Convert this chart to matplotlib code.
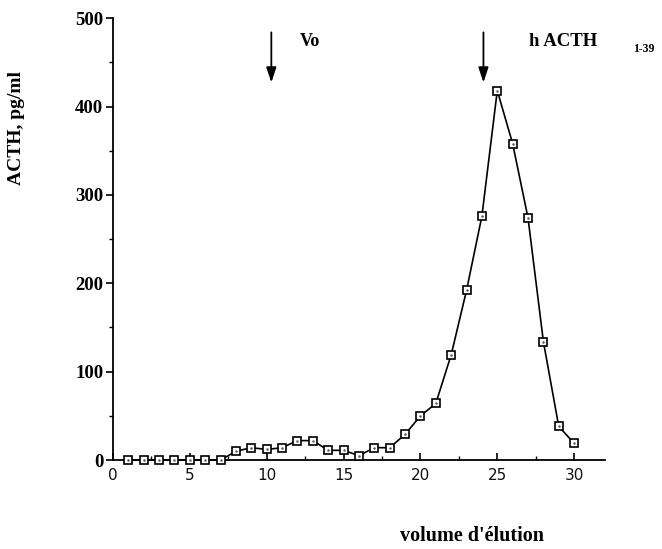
import matplotlib
matplotlib.use("Agg")
import matplotlib.pyplot as plt
from matplotlib.ticker import MultipleLocator

fractions = list(range(1, 31))
acth = [0, 0, 0, 0, 0, 0, 0, 10, 14, 12, 14, 22, 22, 11, 11, 5, 14, 14, 29, 50,
        64, 119, 192, 276, 418, 358, 274, 134, 38, 19]
x_ticks = [0, 5, 10, 15, 20, 25, 30]
y_ticks = [0, 100, 200, 300, 400, 500]
arrow_x = [10.3, 24.1]

fig = plt.figure(figsize=(6.62, 5.49), dpi=100)
ax = fig.add_axes([0.1707, 0.162, 0.743, 0.805])
ax.plot(fractions, acth, color="black", lw=1.2, marker="s", ms=5.5,
        mfc="white", mec="black", mew=1.2, clip_on=False, zorder=3)
ax.plot(fractions, acth, ls="none", marker=".", ms=1.5, color="#555555",
        clip_on=False, zorder=4)

ax.set_xlim(0, 32)
ax.set_ylim(0, 500)
ax.spines["top"].set_visible(False)
ax.spines["right"].set_visible(False)
for s in ("left", "bottom"):
    ax.spines[s].set_linewidth(1.3)
ax.set_xticks(x_ticks)
ax.set_yticks(y_ticks)
ax.xaxis.set_minor_locator(MultipleLocator(2.5))
ax.yaxis.set_minor_locator(MultipleLocator(50))
ax.tick_params(axis="x", which="major", direction="in", length=5, width=1.2,
               labelsize=11, pad=6, labelcolor="#111111")
ax.tick_params(axis="x", which="minor", direction="in", length=3, width=1)
ax.tick_params(axis="y", which="major", direction="out", length=5, width=1.2, pad=2)
ax.tick_params(axis="y", which="minor", direction="out", length=3, width=1)
for lab in ax.get_xticklabels():
    lab.set_fontfamily("DejaVu Sans")
for lab in ax.get_yticklabels():
    lab.set_fontfamily("Liberation Serif")
    lab.set_fontweight("bold")
    lab.set_fontsize(13.5)

for xa in arrow_x:
    ax.annotate("", xy=(xa, 424), xytext=(xa, 487),
                arrowprops=dict(arrowstyle="-|>,head_length=0.9,head_width=0.3",
                                color="black", lw=1.3))

serif_bold = dict(family="Liberation Serif", weight="bold", color="black")
fig.text(300 / 662, 1 - 42 / 549, "Vo", fontsize=13, va="center", **serif_bold)
fig.text(529 / 662, 1 - 42 / 549, "h ACTH", fontsize=13.5, va="center", **serif_bold)
fig.text(633 / 662, 1 - 49 / 549, "1-39", fontsize=8.5, va="center", **serif_bold)
fig.text(17 / 662, 1 - 128 / 549, "ACTH, pg/ml", fontsize=14, rotation=90,
         ha="center", va="center", **serif_bold)
fig.text(472 / 662, 1 - 536 / 549, "volume d'élution", fontsize=14.5,
         ha="center", va="center", **serif_bold)

fig.savefig("out.png", dpi=100)
